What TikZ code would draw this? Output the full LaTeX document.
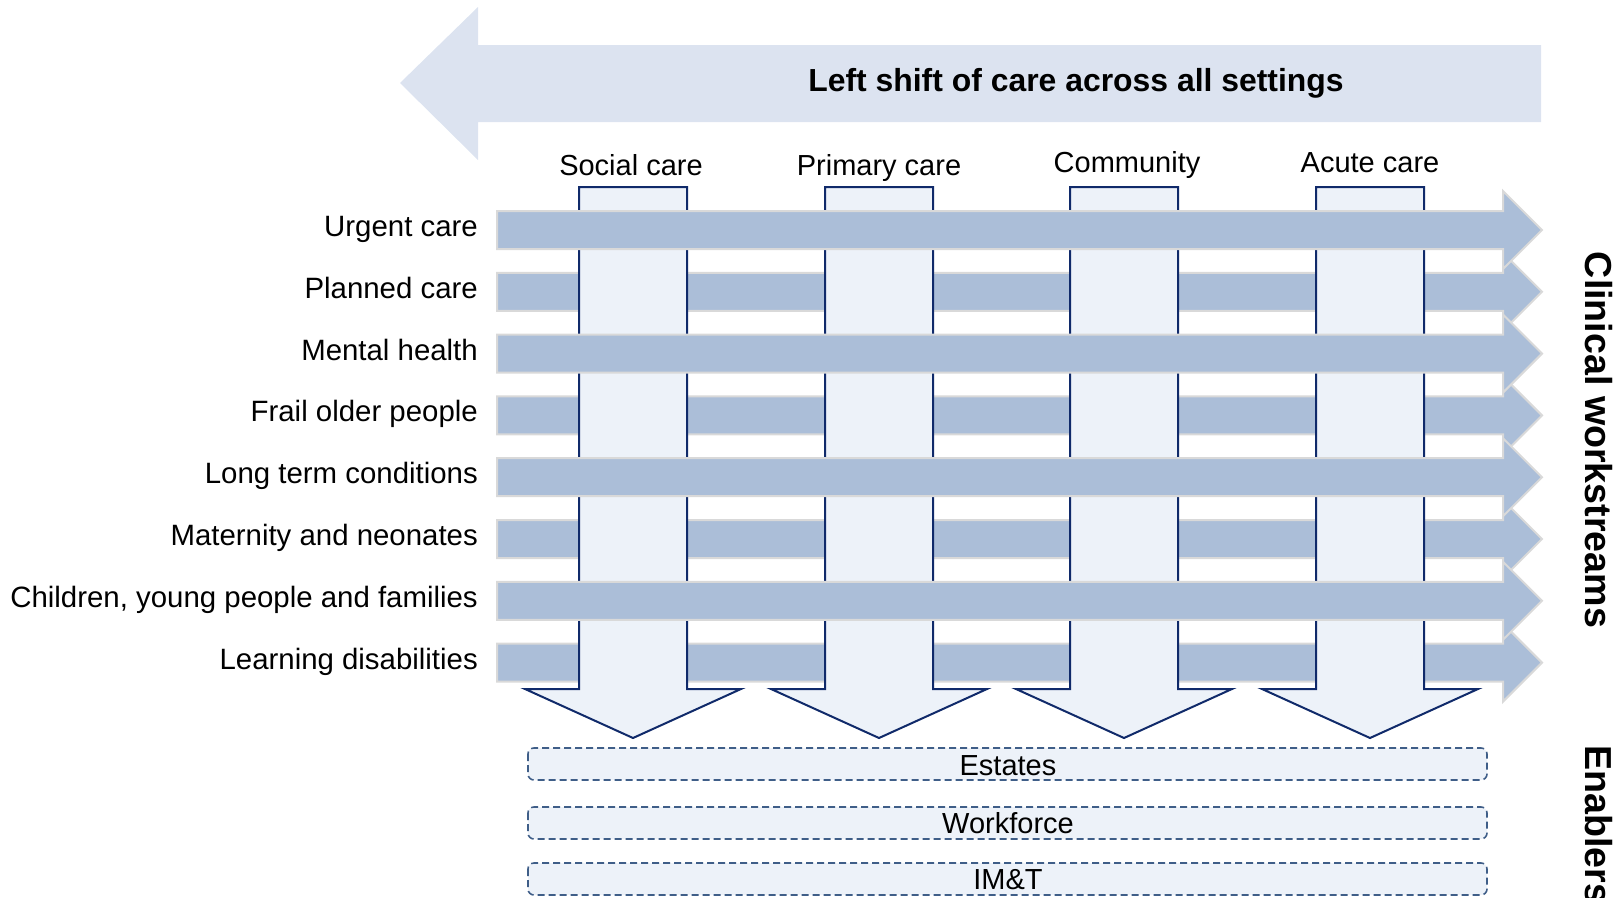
\documentclass[tikz,border=0pt]{standalone}
\usepackage{fontspec}
\setmainfont{Liberation Sans}

\definecolor{shiftfill}{HTML}{DCE3F0}
\definecolor{streamfill}{HTML}{ABBED8}
\definecolor{streamedge}{HTML}{D9D9D9}
\definecolor{settingfill}{HTML}{EDF2F9}
\definecolor{settingedge}{HTML}{102A6A}
\definecolor{enabledge}{HTML}{3F5E88}

\tikzset{
  shiftarrow/.style={fill=shiftfill, draw=none},
  streamarrow/.style={fill=streamfill, draw=streamedge, line width=2pt, line join=miter},
  settingarrow/.style={fill=settingfill, draw=settingedge, line width=2pt, line join=miter},
  enablerbox/.style={fill=settingfill, draw=enabledge, line width=1.6pt, dashed,
    dash pattern=on 7pt off 4pt, rounded corners=6pt},
  rowlabel/.style={anchor=base east, inner sep=0pt, font=\fontsize{29.4}{34}\selectfont},
  collabel/.style={anchor=base, inner sep=0pt, font=\fontsize{29}{34}\selectfont},
  enablerlabel/.style={anchor=base, inner sep=0pt, font=\fontsize{29}{34}\selectfont},
  sidelabel/.style={inner sep=0pt, rotate=-90, font=\fontsize{37.6}{42}\selectfont\bfseries},
}

% one clinical workstream arrow, centred on a given y
\newcommand\workstream[1]{%
  \draw[streamarrow] (497,{#1-19}) -- (1503,{#1-19}) -- (1503,{#1-39}) -- (1542,#1)
    -- (1503,{#1+39}) -- (1503,{#1+19}) -- (497,{#1+19}) -- cycle;}

% one care-setting arrow, centred on a given x
\newcommand\caresetting[1]{%
  \draw[settingarrow] ({#1-54},187) -- ({#1+54},187) -- ({#1+54},689) -- ({#1+108},689)
    -- (#1,738) -- ({#1-108},689) -- ({#1-54},689) -- cycle;}

\begin{document}
\begin{tikzpicture}[x=1pt, y=-1pt]
\useasboundingbox (0,0) rectangle (1622,897);

% left shift banner
\fill[shiftarrow] (1541,45) -- (478,45) -- (478,7) -- (400,83) -- (478,160)
  -- (478,122) -- (1541,122) -- cycle;
\node[inner sep=0pt, font=\fontsize{31.9}{36}\selectfont\bfseries] (title) at (1076,83)
  {Left shift of care across all settings};

% workstreams passing underneath the care settings
\foreach \y in {291.8, 415.4, 539, 662.6} {\workstream{\y}}

% care settings
\foreach \x in {633, 879, 1124, 1370} {\caresetting{\x}}

% workstreams passing over the care settings
\foreach \y in {230, 353.6, 477.2, 600.8} {\workstream{\y}}

% care setting labels
\node[collabel] (social) at (631,175.5) {Social care};
\node[collabel] (primary) at (879,175.5) {Primary care};
\node[collabel] (community) at (1127,172.5) {Community};
\node[collabel] (acute) at (1370,172.5) {Acute care};

% workstream labels
\node[rowlabel] (urgent) at (478,236.5) {Urgent care};
\node[rowlabel] (planned) at (478,298.3) {Planned care};
\node[rowlabel] (mental) at (478,360.1) {Mental health};
\node[rowlabel] (frail) at (478,421.9) {Frail older people};
\node[rowlabel] (ltc) at (478,483.7) {Long term conditions};
\node[rowlabel] (maternity) at (478,545.5) {Maternity and neonates};
\node[rowlabel] (children) at (478,607.3) {Children, young people and families};
\node[rowlabel] (learning) at (478,669.1) {Learning disabilities};

% enablers
\draw[enablerbox] (528,748) rectangle (1487,780);
\draw[enablerbox] (528,807) rectangle (1487,839);
\draw[enablerbox] (528,863) rectangle (1487,895);
\node[enablerlabel] (estates) at (1008,775) {Estates};
\node[enablerlabel] (workforce) at (1008,833.5) {Workforce};
\node[enablerlabel] (imt) at (1008,889.5) {IM\&T};

% side headings
\node[sidelabel] (clinical) at (1599,440) {Clinical workstreams};
\node[sidelabel, anchor=west] (enablers) at (1599,745) {Enablers};
\end{tikzpicture}
\end{document}
